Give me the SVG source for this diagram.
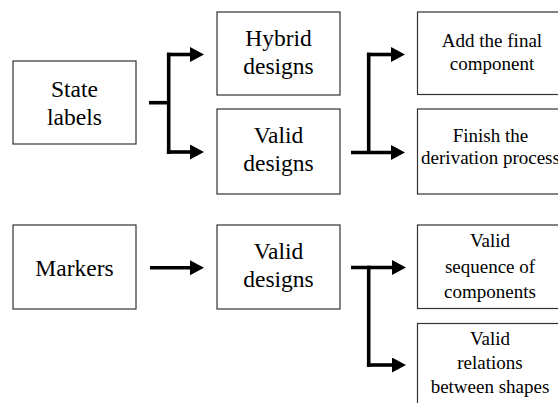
<svg xmlns="http://www.w3.org/2000/svg" width="558" height="403" viewBox="0 0 558 403">
<style>
.box{fill:#fff;stroke:#333;stroke-width:1.2}
.big{font-size:23.5px;fill:#000;text-anchor:middle}
.sm{font-size:19px;fill:#000;text-anchor:middle}
.c{fill:none;stroke:#000;stroke-width:3.6;stroke-linecap:butt;stroke-linejoin:miter}
</style>
<defs>
<marker id="ah" markerUnits="userSpaceOnUse" markerWidth="16" markerHeight="16" refX="1" refY="7.5" orient="auto">
<path d="M0,0 L14,7.5 L0,15 Z" fill="#000"/>
</marker>
</defs>
<rect width="558" height="403" fill="#fff"/>
<g id="connectors">
<path class="c" d="M149,102.7 H168.7"/>
<path class="c" d="M168.7,52.7 V153.8"/>
<path class="c" d="M166.9,54.5 H191" marker-end="url(#ah)"/>
<path class="c" d="M166.9,152 H191" marker-end="url(#ah)"/>
<path class="c" d="M351,152.5 H392" marker-end="url(#ah)"/>
<path class="c" d="M368.7,152.5 V52.7"/>
<path class="c" d="M366.9,54.5 H392" marker-end="url(#ah)"/>
<path class="c" d="M150,267.7 H191" marker-end="url(#ah)"/>
<path class="c" d="M351,267.5 H393" marker-end="url(#ah)"/>
<path class="c" d="M368.7,265.7 V366.8"/>
<path class="c" d="M366.9,365 H393" marker-end="url(#ah)"/>
</g>
<g id="state-labels">
<rect class="box" x="13" y="61" width="123" height="83"/>
<text class="big" x="74.5" y="97.3" font-family="serif">State</text>
<text class="big" x="74.5" y="125" font-family="serif">labels</text>
</g>
<g id="hybrid-designs">
<rect class="box" x="217" y="12" width="123" height="83"/>
<text class="big" x="278.5" y="46" font-family="serif">Hybrid</text>
<text class="big" x="278.5" y="73.7" font-family="serif">designs</text>
</g>
<g id="valid-designs-top">
<rect class="box" x="217" y="109" width="123" height="85"/>
<text class="big" x="278.5" y="143.3" font-family="serif">Valid</text>
<text class="big" x="278.5" y="171" font-family="serif">designs</text>
</g>
<g id="add-final-component">
<rect class="box" x="417.5" y="12" width="150" height="82.5"/>
<text class="sm" x="492" y="47.3" font-family="serif">Add the final</text>
<text class="sm" x="492" y="70" font-family="serif">component</text>
</g>
<g id="finish-derivation">
<rect class="box" x="417.5" y="109" width="150" height="85"/>
<text class="sm" x="490.5" y="142.3" font-family="serif">Finish the</text>
<text class="sm" x="490.5" y="164" font-family="serif">derivation process</text>
</g>
<g id="markers">
<rect class="box" x="13" y="225" width="123" height="84"/>
<text class="big" x="74.5" y="276" font-family="serif">Markers</text>
</g>
<g id="valid-designs-bottom">
<rect class="box" x="217" y="225" width="123" height="84"/>
<text class="big" x="278.5" y="258.5" font-family="serif">Valid</text>
<text class="big" x="278.5" y="286.5" font-family="serif">designs</text>
</g>
<g id="valid-sequence">
<rect class="box" x="417.5" y="225" width="150" height="83.5"/>
<text class="sm" x="490" y="246.7" font-family="serif">Valid</text>
<text class="sm" x="490" y="273" font-family="serif">sequence of</text>
<text class="sm" x="490" y="298.3" font-family="serif">components</text>
</g>
<g id="valid-relations">
<rect class="box" x="417.5" y="323.5" width="150" height="90"/>
<text class="sm" x="490" y="345" font-family="serif">Valid</text>
<text class="sm" x="490" y="369.3" font-family="serif">relations</text>
<text class="sm" x="490" y="393.3" font-family="serif">between shapes</text>
</g>
</svg>
